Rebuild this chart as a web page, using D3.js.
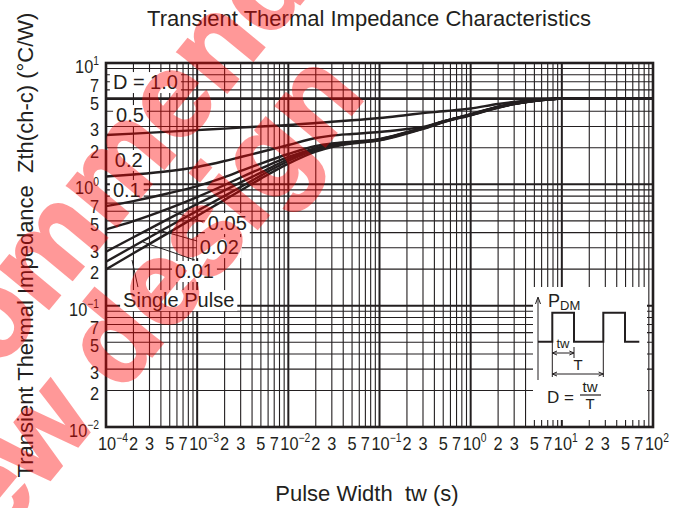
<!DOCTYPE html>
<html lang="en">
<head>
<meta charset="utf-8">
<title>Transient Thermal Impedance Characteristics</title>
<script src="https://cdn.jsdelivr.net/npm/d3@7"></script>
<style>
    body {
        margin: 0;
        background: #fff;
    }

    text {
        font-family: "Liberation Sans", Arial, Helvetica, sans-serif;
        fill: #231f20;
        white-space: pre;
    }

    .grid line {
        stroke: #231f20;
    }

    .curve {
        fill: none;
        stroke: #231f20;
        stroke-width: 2.4px;
    }
</style>
</head>
<body>
<svg id="chart" width="683" height="508"></svg>
<script>
    // pulse widths (s) the curves are read at
    const twValues = [1e-4, 2e-4, 5e-4, 1e-3, 2e-3, 3e-3, 5e-3, 1e-2, 2e-2, 3e-2, 5e-2,
        1e-1, 2e-1, 3e-1, 5e-1, 1, 2, 3, 5, 7, 10, 100];

    // Zth(ch-c) in degC/W for every duty cycle
    const zD10 = [5.1, 5.1, 5.1, 5.1, 5.1, 5.1, 5.1, 5.1, 5.1, 5.1, 5.1,
        5.1, 5.1, 5.1, 5.1, 5.1, 5.1, 5.1, 5.1, 5.1, 5.1, 5.1];
    const zD05 = [2.55, 2.62, 2.72, 2.80, 2.88, 2.94, 3.00, 3.08, 3.20, 3.28, 3.37,
        3.52, 3.73, 3.86, 4.00, 4.22, 4.59, 4.77, 4.95, 5.05, 5.1, 5.1];
    const zD02 = [1.159, 1.205, 1.288, 1.39, 1.556, 1.68, 1.846, 2.11, 2.41, 2.52, 2.60,
        2.70, 2.86, 2.97, 3.30, 3.79, 4.36, 4.64, 4.90, 5.03, 5.1, 5.1];
    const zD01 = [0.662, 0.728, 0.848, 0.968, 1.149, 1.288, 1.484, 1.778, 2.07, 2.17, 2.25,
        2.36, 2.69, 2.92, 3.30, 3.77, 4.34, 4.62, 4.89, 5.02, 5.1, 5.1];
    const zD005 = [0.426, 0.498, 0.637, 0.785, 0.987, 1.138, 1.35, 1.68, 1.99, 2.11, 2.22,
        2.35, 2.68, 2.91, 3.29, 3.76, 4.33, 4.61, 4.88, 5.01, 5.1, 5.1];
    const zD002 = [0.278, 0.366, 0.527, 0.689, 0.892, 1.037, 1.249, 1.617, 1.95, 2.09, 2.21,
        2.34, 2.67, 2.90, 3.28, 3.75, 4.32, 4.60, 4.88, 5.01, 5.1, 5.1];
    const zD001 = [0.230, 0.309, 0.453, 0.604, 0.804, 0.952, 1.18, 1.556, 1.92, 2.07, 2.19,
        2.32, 2.65, 2.88, 3.26, 3.73, 4.30, 4.59, 4.87, 5.00, 5.1, 5.1];
    const zSingle = [0.199, 0.270, 0.404, 0.549, 0.745, 0.891, 1.114, 1.48, 1.86, 2.03, 2.17,
        2.30, 2.62, 2.86, 3.24, 3.71, 4.28, 4.58, 4.86, 5.00, 5.1, 5.1];

    const seriesList = [zD10, zD05, zD02, zD01, zD005, zD002, zD001, zSingle];

    // tick labels
    const xTickValues = [1e-4, 2e-4, 3e-4, 5e-4, 7e-4, 1e-3, 2e-3, 3e-3, 5e-3, 7e-3,
        1e-2, 2e-2, 3e-2, 5e-2, 7e-2, 1e-1, 2e-1, 3e-1, 5e-1, 7e-1,
        1, 2, 3, 5, 7, 10, 20, 30, 50, 70, 100];
    const yTickValues = [10, 7, 5, 3, 2, 1, 0.7, 0.5, 0.3, 0.2, 0.1, 0.07, 0.05, 0.03, 0.02, 0.01];

    // curve labels, anchored at (tw, Zth)
    const labelTexts = ["D = 1.0", "0.5", "0.2", "0.1", "0.05", "0.02", "0.01", "Single Pulse"];
    const labelTw = [1.19e-4, 1.29e-4, 1.25e-4, 1.19e-4, 1.31e-3, 1.07e-3, 5.71e-4, 1.54e-4];
    const labelZ = [6.1, 3.26, 1.39, 0.786, 0.42, 0.266, 0.169, 0.0974];

    // leader lines [tw1, z1, tw2, z2]
    const leaders = [
        [4.79e-4, 0.614, 1.16e-3, 0.489],
        [3.44e-4, 0.428, 1.0e-3, 0.341],
        [2.55e-4, 0.334, 9.46e-4, 0.2377],
        [1.93e-4, 0.2377, 2.24e-4, 0.1423]
    ];

    const svg = d3.select("#chart");
    const plotLeft = 106, plotRight = 653, plotTop = 63, plotBottom = 427;

    const x = d3.scaleLog().domain([1e-4, 1e2]).range([plotLeft, plotRight]);
    const y = d3.scaleLog().domain([1e-2, 1e1]).range([plotBottom, plotTop]);

    const isDecade = v => Math.abs(Math.log10(v) - Math.round(Math.log10(v))) < 1e-6;

    // grid
    const xGrid = [], yGrid = [];
    for (let e = -4; e < 2; e++) for (let k = 1; k < 10; k++) xGrid.push(k * Math.pow(10, e));
    for (let e = -2; e < 1; e++) for (let k = 1; k < 10; k++) yGrid.push(k * Math.pow(10, e));

    const grid = svg.append("g").attr("class", "grid");
    grid.selectAll("line.v")
        .data(xGrid)
        .enter().append("line")
        .attr("x1", d => x(d)).attr("x2", d => x(d))
        .attr("y1", plotTop).attr("y2", plotBottom)
        .attr("stroke-width", d => isDecade(d) ? 2 : 1.1);
    grid.selectAll("line.h")
        .data(yGrid)
        .enter().append("line")
        .attr("x1", plotLeft).attr("x2", plotRight)
        .attr("y1", d => y(d)).attr("y2", d => y(d))
        .attr("stroke-width", d => isDecade(d) ? 2 : 1.1);

    // curve labels with white boxes
    const labels = svg.append("g");
    labelTexts.forEach((t, i) => {
        const g = labels.append("g");
        const txt = g.append("text")
            .attr("x", x(labelTw[i]))
            .attr("y", y(labelZ[i]))
            .attr("font-size", 20)
            .text(t);
        const b = txt.node().getBBox();
        g.insert("rect", "text")
            .attr("x", b.x - 3).attr("y", b.y + 1)
            .attr("width", b.width + 6).attr("height", b.height - 1)
            .attr("fill", "#fff");
    });

    // curves
    const line = d3.line()
        .x((d, i) => x(twValues[i]))
        .y(d => y(d))
        .curve(d3.curveMonotoneX);

    svg.append("g")
        .selectAll("path")
        .data(seriesList)
        .enter().append("path")
        .attr("class", "curve")
        .attr("stroke-width", (d, i) => i === 0 ? 3 : 2.4)
        .attr("d", line);

    svg.append("g")
        .selectAll("line")
        .data(leaders)
        .enter().append("line")
        .attr("x1", d => x(d[0])).attr("y1", d => y(d[1]))
        .attr("x2", d => x(d[2])).attr("y2", d => y(d[3]))
        .attr("stroke", "#231f20")
        .attr("stroke-width", 1);

    // inset: pulse diagram
    const inset = svg.append("g").attr("transform", "translate(533,287)");
    inset.append("rect").attr("width", 114).attr("height", 133).attr("fill", "#fff");
    const ink = "#231f20";
    inset.append("line").attr("x1", 5).attr("y1", 93).attr("x2", 5).attr("y2", 11)
        .attr("stroke", ink).attr("stroke-width", 1);
    inset.append("path").attr("d", "M2.5,17 L5,10 L7.5,17").attr("fill", "none")
        .attr("stroke", ink).attr("stroke-width", 1);
    const pTxt = inset.append("text").attr("x", 15).attr("y", 20).attr("font-size", 18).text("P");
    pTxt.append("tspan").attr("font-size", 13).attr("dy", 3).text("DM");
    inset.append("path")
        .attr("d", "M5,54.7 H19.3 V25.7 H41 V54.7 H70.3 V25.7 H92 V54.7 H106.3")
        .attr("fill", "none").attr("stroke", ink).attr("stroke-width", 2);
    inset.append("text").attr("x", 30).attr("y", 61).attr("font-size", 13)
        .attr("text-anchor", "middle").text("tw");
    inset.append("path")
        .attr("d", "M19.3,54.7 V90 M41,60 V71 M70.3,54.7 V90")
        .attr("stroke", ink).attr("stroke-width", 1);
    inset.append("path")
        .attr("d", "M19.3,66 H41 M24,64 L19.3,66 L24,68 M36.3,64 L41,66 L36.3,68")
        .attr("fill", "none").attr("stroke", ink).attr("stroke-width", 1);
    inset.append("text").attr("x", 45).attr("y", 83).attr("font-size", 15)
        .attr("text-anchor", "middle").text("T");
    inset.append("path")
        .attr("d", "M19.3,87 H70.3 M24,85 L19.3,87 L24,89 M65.6,85 L70.3,87 L65.6,89")
        .attr("fill", "none").attr("stroke", ink).attr("stroke-width", 1);
    inset.append("text").attr("x", 14).attr("y", 116).attr("font-size", 17).text("D =");
    inset.append("text").attr("x", 57).attr("y", 105).attr("font-size", 15)
        .attr("text-anchor", "middle").text("tw");
    inset.append("line").attr("x1", 47).attr("x2", 68).attr("y1", 108).attr("y2", 108)
        .attr("stroke", ink).attr("stroke-width", 1.2);
    inset.append("text").attr("x", 57).attr("y", 122).attr("font-size", 15)
        .attr("text-anchor", "middle").text("T");

    // frame
    svg.append("rect")
        .attr("x", plotLeft).attr("y", plotTop)
        .attr("width", plotRight - plotLeft).attr("height", plotBottom - plotTop)
        .attr("fill", "none").attr("stroke", "#231f20").attr("stroke-width", 2.6);

    // tick labels (slightly condensed like the original)
    const expText = v => String(Math.round(Math.log10(v))).replace("-", "\u2212");
    const mantissa = v => String(Math.round(v / Math.pow(10, Math.floor(Math.log10(v) + 1e-9))));
    const squeeze = 0.86;

    xTickValues.forEach(v => {
        const dec = isDecade(v);
        const t = svg.append("text")
            .attr("transform", "translate(" + (dec ? x(v) - 8 : x(v)) + "," + (plotBottom + 23) + ") scale(" + squeeze + ",1)")
            .attr("text-anchor", dec ? "start" : "middle")
            .attr("font-size", 19);
        if (dec) {
            t.text("10");
            t.append("tspan").attr("font-size", 12).attr("dy", -8).text(expText(v));
        } else {
            t.text(mantissa(v));
        }
    });

    yTickValues.forEach(v => {
        const t = svg.append("text")
            .attr("transform", "translate(99," + (y(v) + 10) + ") scale(" + squeeze + ",1)")
            .attr("text-anchor", "end")
            .attr("font-size", 19);
        if (isDecade(v)) {
            t.text("10");
            t.append("tspan").attr("font-size", 12).attr("dy", -8).text(expText(v));
        } else {
            t.text(mantissa(v));
        }
    });

    // titles
    svg.append("text").attr("x", 369).attr("y", 26).attr("text-anchor", "middle")
        .attr("font-size", 22).text("Transient Thermal Impedance Characteristics");
    svg.append("text").attr("x", 367).attr("y", 501).attr("text-anchor", "middle")
        .attr("font-size", 22).text("Pulse Width  tw (s)");
    svg.append("text").attr("transform", "translate(33,245) rotate(-90)")
        .attr("text-anchor", "middle")
        .attr("font-size", 22).text("Transient Thermal Impedance  Zth(ch-c) (\u00b0C/W)");

    // watermark (group opacity so overlapping strokes stay even)
    const mark = svg.append("g")
        .attr("opacity", 0.4)
        .style("font-weight", "bold")
        .style("font-size", "120px");
    mark.append("text").attr("transform", "translate(-266,690) rotate(-50.5)")
        .style("fill", "#ff0000").style("stroke", "#ff0000").style("stroke-width", 3)
        .text("Not recommended");
    mark.append("text").attr("transform", "translate(-172,749) rotate(-50.5)")
        .style("fill", "#ff0000").style("stroke", "#ff0000").style("stroke-width", 3)
        .text("for new design");
</script>
</body>
</html>
